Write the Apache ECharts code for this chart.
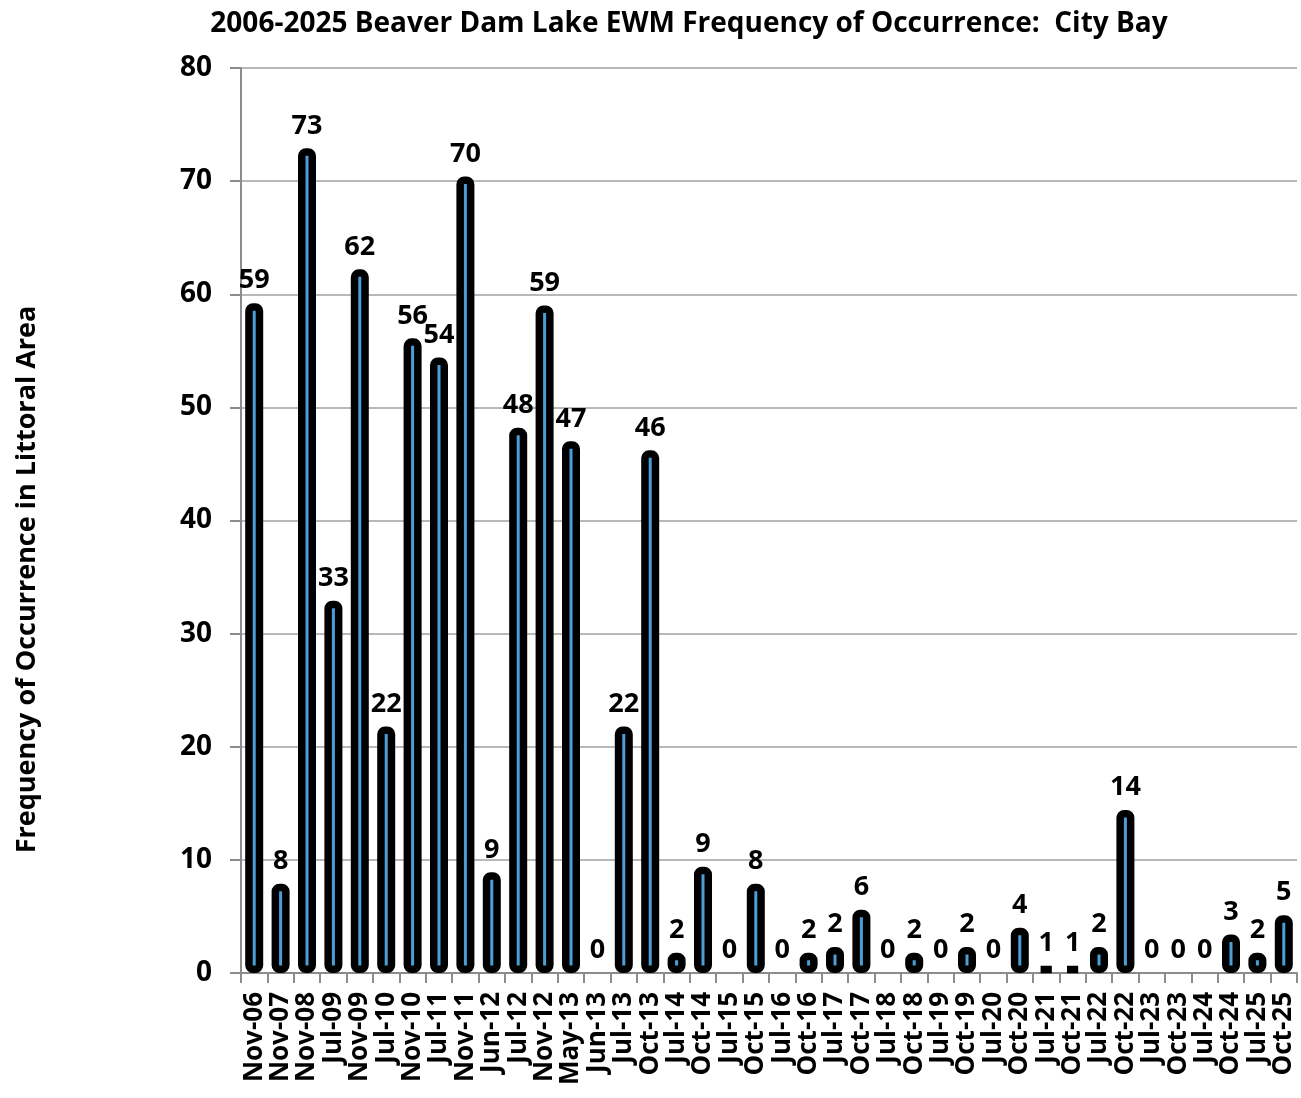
<!DOCTYPE html>
<html><head><meta charset="utf-8">
<script src="https://cdn.jsdelivr.net/npm/echarts@6/dist/echarts.min.js"></script>
<style>html,body{margin:0;padding:0;background:#fff}#c{width:1301px;height:1098px}</style>
</head><body><div id="c"></div>
<script>
const titleText = '2006-2025 Beaver Dam Lake EWM Frequency of Occurrence:  City Bay';
const yAxisName = 'Frequency of Occurrence in Littoral Area';
const categories = ['Nov-06','Nov-07','Nov-08','Jul-09','Nov-09','Jul-10','Nov-10','Jul-11','Nov-11','Jun-12',
  'Jul-12','Nov-12','May-13','Jun-13','Jul-13','Oct-13','Jul-14','Oct-14','Jul-15','Oct-15',
  'Jul-16','Oct-16','Jul-17','Oct-17','Jul-18','Oct-18','Jul-19','Oct-19','Jul-20','Oct-20',
  'Jul-21','Oct-21','Jul-22','Oct-22','Jul-23','Oct-23','Jul-24','Oct-24','Jul-25','Oct-25'];
const values = [59.2, 7.9, 72.9, 32.9, 62.2, 21.8, 56.1, 54.4, 70.4, 8.9,
  48.2, 59.0, 47.0, 0, 21.8, 46.2, 1.8, 9.4, 0, 7.9,
  0, 1.8, 2.3, 5.6, 0, 1.8, 0, 2.3, 0, 4.0,
  0.6, 0.6, 2.3, 14.4, 0, 0, 0, 3.4, 1.8, 5.1];
const yMin = 0, yMax = 80, yStep = 10;

const FONT = '"Open Sans", sans-serif';
const barData = values.map(v => v === 0 ? { value: v, itemStyle: { borderWidth: 0, opacity: 0 } } : v);
const chart = echarts.init(document.getElementById('c'));
chart.setOption({
  animation: false,
  title: { text: titleText, left: 684, top: 5, textAlign: 'center',
    textStyle: { fontFamily: FONT, fontWeight: 'bold', fontSize: 28, color: '#000' } },
  grid: { left: 241, right: 4, top: 68, bottom: 125, containLabel: false },
  xAxis: {
    type: 'category', data: categories, boundaryGap: true,
    axisLine: { lineStyle: { color: '#8c8c8c', width: 2 } },
    axisTick: { show: true, length: 10, lineStyle: { color: '#8c8c8c', width: 2 } },
    axisLabel: { rotate: 90, interval: 0, margin: 19, fontFamily: FONT, fontWeight: 'bold', fontSize: 26, color: '#000' }
  },
  yAxis: {
    type: 'value', min: yMin, max: yMax, interval: yStep,
    name: yAxisName, nameLocation: 'middle', nameGap: 200, nameRotate: 90,
    nameTextStyle: { fontFamily: FONT, fontWeight: 'bold', fontSize: 27, color: '#000', padding: [0, 118, 0, 0] },
    axisLine: { show: true, lineStyle: { color: '#8c8c8c', width: 2 } },
    axisTick: { show: true, length: 11, lineStyle: { color: '#8c8c8c', width: 2 } },
    splitLine: { lineStyle: { color: '#a0a0a0', width: 1.5 } },
    axisLabel: { margin: 29, fontFamily: FONT, fontWeight: 'bold', fontSize: 28, color: '#000' }
  },
  series: [{
    type: 'bar', data: barData, barWidth: 18,
    itemStyle: { color: '#4a9fd8', borderColor: '#000', borderWidth: 7.5, borderRadius: 4 },
    label: { show: true, position: 'top', distance: 9, fontFamily: FONT, fontWeight: 'bold', fontSize: 27, color: '#000',
      opacity: 1, formatter: p => Math.round(p.value) }
  }]
});
</script></body></html>
